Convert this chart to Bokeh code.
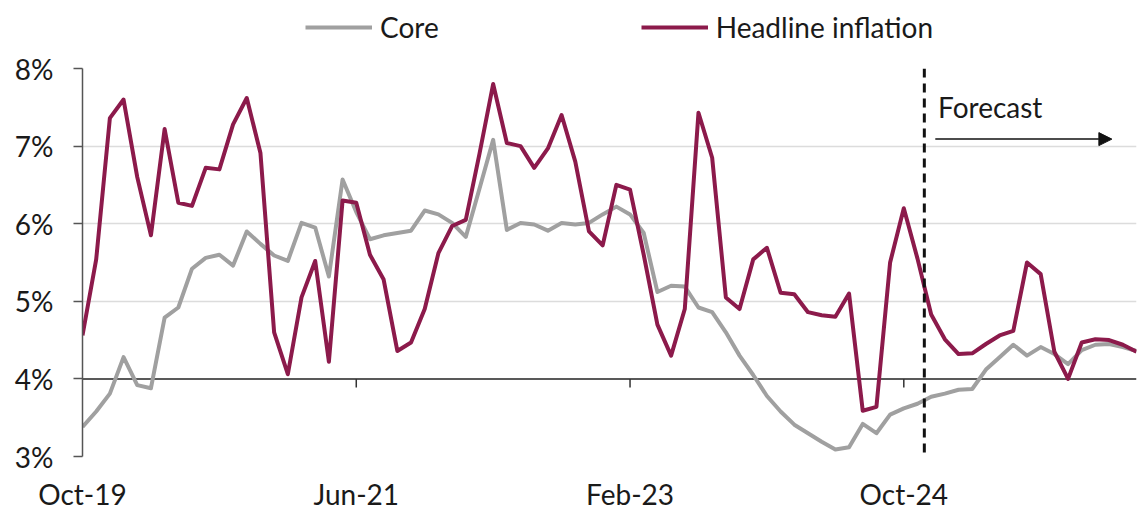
from bokeh.plotting import figure
from bokeh.layouts import column
from bokeh.models import (Range1d, FixedTicker, Span, Legend, LegendItem, Label,
                          Arrow, NormalHead, ColumnDataSource)
from bokeh.embed import file_html
from bokeh.resources import INLINE

# ---------------- data (monthly, Oct-19 .. Mar-26) ----------------
headline = [4.56, 5.54, 7.36, 7.60, 6.60, 5.85, 7.22, 6.27, 6.23, 6.72,
            6.70, 7.28, 7.62, 6.91, 4.60, 4.06, 5.05, 5.52, 4.22, 6.30,
            6.27, 5.60, 5.28, 4.36, 4.47, 4.90, 5.62, 5.97, 6.05, 6.90,
            7.80, 7.04, 7.00, 6.72, 6.97, 7.40, 6.80, 5.90, 5.72, 6.50,
            6.44, 5.60, 4.70, 4.30, 4.90, 7.43, 6.85, 5.05, 4.90, 5.54,
            5.69, 5.11, 5.09, 4.86, 4.82, 4.80, 5.10, 3.59, 3.64, 5.50,
            6.20, 5.55, 4.83, 4.51, 4.32, 4.33, 4.45, 4.56, 4.62, 5.50,
            5.35, 4.35, 4.00, 4.47, 4.51, 4.50, 4.44, 4.35]
core = [3.38, 3.58, 3.81, 4.28, 3.92, 3.88, 4.79, 4.92, 5.42, 5.56,
        5.60, 5.46, 5.90, 5.74, 5.59, 5.52, 6.01, 5.95, 5.32, 6.57,
        6.15, 5.80, 5.85, 5.88, 5.91, 6.17, 6.12, 6.01, 5.83, 6.45,
        7.08, 5.92, 6.01, 5.99, 5.91, 6.01, 5.99, 6.01, 6.12, 6.22,
        6.12, 5.88, 5.12, 5.20, 5.19, 4.92, 4.86, 4.60, 4.30, 4.05,
        3.78, 3.58, 3.41, 3.30, 3.19, 3.09, 3.12, 3.42, 3.30, 3.54,
        3.62, 3.68, 3.77, 3.81, 3.86, 3.87, 4.12, 4.28, 4.44, 4.30,
        4.41, 4.32, 4.19, 4.37, 4.44, 4.45, 4.41, 4.36]
month_index = list(range(len(headline)))

x_tick_positions = [0, 20, 40, 60]
x_tick_labels = ["Oct-19", "Jun-21", "Feb-23", "Oct-24"]
y_tick_positions = [3, 4, 5, 6, 7, 8]
y_tick_labels = ["3%", "4%", "5%", "6%", "7%", "8%"]
series_names = ["Core", "Headline inflation"]
forecast_start = 61.5

FONT = "Lato"
FS = "28px"
TXT = "#1a1a1a"
HEAD_COL = "#8c1a4b"
CORE_COL = "#a0a0a0"

src = ColumnDataSource(dict(x=month_index, head=headline, core=core))

# ---------------- legend strip (series lie outside its range) ----------------
lg = figure(width=1138, height=45, output_backend="svg", toolbar_location=None,
            x_axis_type=None, y_axis_type=None, min_border=0,
            outline_line_color=None, x_range=Range1d(0, 1), y_range=Range1d(-2, -1))
lg.grid.visible = False
d_core = lg.line("x", "core", source=src, line_color=CORE_COL, line_width=4)
d_head = lg.line("x", "head", source=src, line_color=HEAD_COL, line_width=4)
legend = Legend(items=[LegendItem(label=series_names[0], renderers=[d_core]),
                       LegendItem(label=series_names[1], renderers=[d_head])],
                orientation="horizontal", location=(223, 1), spacing=202,
                glyph_width=67, glyph_height=20, label_standoff=8, padding=0,
                margin=0, border_line_color=None, background_fill_alpha=0,
                label_text_font=FONT, label_text_font_size=FS,
                label_text_color=TXT)
lg.add_layout(legend, "center")

# ---------------- main chart ----------------
p = figure(width=1138, height=468, output_backend="svg", toolbar_location=None,
           x_range=Range1d(0, len(headline) - 1), y_range=Range1d(3, 8),
           min_border_left=82, min_border_right=2, min_border_top=23,
           min_border_bottom=54, outline_line_color=None)

p.xgrid.visible = False
p.ygrid.ticker = FixedTicker(ticks=[t for t in y_tick_positions if t != 4])
p.ygrid.grid_line_color = "#dcdcdc"
p.ygrid.grid_line_width = 1.5

p.yaxis.ticker = FixedTicker(ticks=y_tick_positions)
p.yaxis.major_label_overrides = dict(zip(y_tick_positions, y_tick_labels))
p.yaxis.axis_line_color = "#555555"
p.yaxis.axis_line_width = 1.5
p.yaxis.major_tick_line_color = "#555555"
p.yaxis.major_tick_line_width = 1.5
p.yaxis.major_tick_out = 9
p.yaxis.major_tick_in = 0
p.yaxis.minor_tick_line_color = None
p.yaxis.major_label_standoff = 20
p.yaxis.major_label_text_font = FONT
p.yaxis.major_label_text_font_size = FS
p.yaxis.major_label_text_color = TXT

p.xaxis.ticker = FixedTicker(ticks=x_tick_positions)
p.xaxis.major_label_overrides = dict(zip(x_tick_positions, x_tick_labels))
p.xaxis.axis_line_color = None
p.xaxis.major_tick_line_color = None
p.xaxis.minor_tick_line_color = None
p.xaxis.major_label_standoff = 14
p.xaxis.major_label_text_font = FONT
p.xaxis.major_label_text_font_size = FS
p.xaxis.major_label_text_color = TXT

# baseline at 4% with tick marks
p.add_layout(Span(location=4, dimension="width", line_color="#222222",
                  line_width=1.5, level="underlay"))
tick_len = 0.11
p.segment(x0=x_tick_positions[1:], x1=x_tick_positions[1:],
          y0=[4] * 3, y1=[4 - tick_len] * 3, line_color="#333333", line_width=1.5)

r_core = p.line("x", "core", source=src, line_color=CORE_COL, line_width=4,
                line_join="round")
r_head = p.line("x", "head", source=src, line_color=HEAD_COL, line_width=4,
                line_join="round")

# forecast marker
p.add_layout(Span(location=forecast_start, dimension="height", line_color="#111111",
                  line_width=3, line_dash="9 6"))
p.add_layout(Label(x=forecast_start + 1.0, y=7.5, text="Forecast",
                   text_baseline="middle", text_font=FONT, text_font_size=FS,
                   text_color=TXT))
p.add_layout(Arrow(x_start=forecast_start + 0.8, y_start=7.09,
                   x_end=forecast_start + 13.7, y_end=7.09,
                   line_color="#111111", line_width=1.5,
                   end=NormalHead(size=13, fill_color="#111111", line_color="#111111")))

layout = column(lg, p, spacing=0)
open("out.html", "w").write(file_html(layout, INLINE))
